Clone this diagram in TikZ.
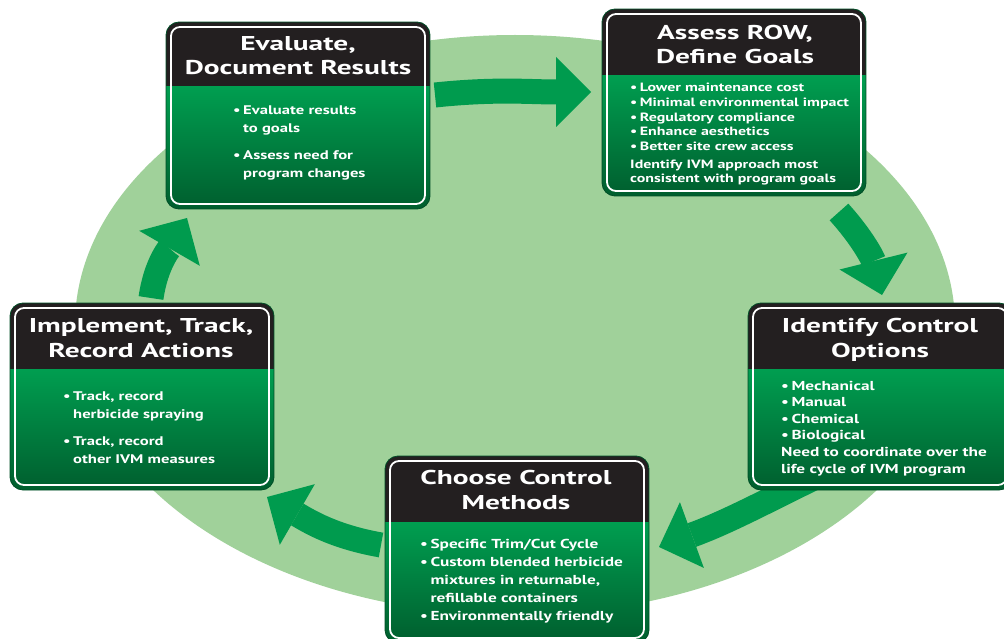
\documentclass[tikz,border=0pt]{standalone}
\usepackage{fontspec}
\setmainfont{PT Sans}
\newfontfamily\hdfont{PT Sans}[FakeStretch=1.47]
\newfontfamily\bdfont{PT Sans}[FakeStretch=1.33]
\usetikzlibrary{arrows.meta}

\definecolor{fieldgreen}{RGB}{160,209,154}
\definecolor{arrowgreen}{RGB}{0,155,78}
\definecolor{boxtop}{RGB}{0,158,80}
\definecolor{boxbottom}{RGB}{0,94,46}
\definecolor{hdrblack}{RGB}{35,31,32}
\definecolor{rimgreen}{RGB}{0,78,38}

\newcommand{\bul}{\textbullet\hspace{2.5pt}}
\newcommand{\nob}{\hphantom{\textbullet\hspace{2.5pt}}}

\begin{document}
\begin{tikzpicture}[x=1pt,y=-1pt,
                    bigarrow/.style={draw=arrowgreen,line width=25pt,
                      -{Triangle[length=35pt,width=70pt,line width=0pt]}},
                    title/.style={anchor=base,align=center,text=white,inner sep=0pt,
                      font=\hdfont\bfseries\fontsize{20}{24.5}\selectfont},
                    items/.style={anchor=base west,align=left,text=white,inner sep=0pt,
                      font=\bdfont\bfseries\fontsize{12.5}{18}\selectfont}]

  \useasboundingbox (0,0) rectangle (1004,639);
  \clip (0,0) rectangle (1004,639);

  % background field
  \fill[fieldgreen] (515,325) ellipse [x radius=440pt,y radius=290pt];

  % loose ends of the arrows
  \coordinate (a1s) at (435,95);  \coordinate (a1e) at (591,92);
  \coordinate (a2s) at (839,212); \coordinate (a2e) at (882,295);
  \coordinate (a3s) at (830,470); \coordinate (a3e) at (659,547);
  \coordinate (a4s) at (381,545); \coordinate (a4e) at (267,497);
  \coordinate (a5s) at (151,298); \coordinate (a5e) at (187,218);

  \draw[bigarrow] (a1s) to[out=6,in=180] (a1e);
  \draw[bigarrow] (a2s) to[out=-48,in=104] (a2e);
  \draw[bigarrow] (a3s) to[out=206,in=20] (a3e);
  \draw[bigarrow] (a4s) to[out=170,in=-30] (a4e);
  \draw[bigarrow] (a5s) to[out=82,in=240] (a5e);

  % the five boxes
  \foreach \bx/\by/\bh in {166/22/87, 602/9/76, 748/303/369, 385/456/522, 10/303/369} {
    \begin{scope}
      \clip[rounded corners=13pt] (\bx,\by) rectangle ++(264,187);
      \fill[hdrblack] (\bx,\by) rectangle (\bx+264,\bh);
      \shade[top color=boxtop,bottom color=boxbottom] (\bx,\bh) rectangle (\bx+264,\by+187);
    \end{scope}
    \draw[rimgreen,line width=0.8pt,rounded corners=13pt] (\bx,\by) rectangle ++(264,187);
    \draw[white,line width=1.8pt,rounded corners=9pt] (\bx+5,\by+5) rectangle (\bx+259,\by+182);
  }

  % anchor=base sits on the last line
  \node[title] (evalT) at (298,75) {Evaluate,\\Document Results};
  \node[items] (evalB) at (233,178)
    {\bul Evaluate results\\\nob to goals\\[9pt]\bul Assess need for\\\nob program changes};

  \node[title] (assessT) at (735,64) {Assess ROW,\\Define Goals};
  \node[items,font=\bdfont\bfseries\fontsize{12}{14.7}\selectfont] (assessB) at (630,183)
    {\bul Lower maintenance cost\\\bul Minimal environmental impact\\
     \bul Regulatory compliance\\\bul Enhance aesthetics\\\bul Better site crew access\\[3pt]
     Identify IVM approach most\\consistent with program goals};

  \node[title] (optT) at (880,357) {Identify Control\\Options};
  \node[items,font=\bdfont\bfseries\fontsize{13}{16.6}\selectfont] (optB) at (781,473)
    {\bul Mechanical\\\bul Manual\\\bul Chemical\\\bul Biological\\
     Need to coordinate over the\\life cycle of IVM program};

  \node[title] (chooseT) at (516,509) {Choose Control\\Methods};
  \node[items,font=\bdfont\bfseries\fontsize{13}{18}\selectfont] (chooseB) at (420,620)
    {\bul Specific Trim/Cut Cycle\\\bul Custom blended herbicide\\
     \nob mixtures in returnable,\\\nob refillable containers\\\bul Environmentally friendly};

  \node[title] (trackT) at (141,357) {Implement, Track,\\Record Actions};
  \node[items] (trackB) at (63,463)
    {\bul Track, record\\\nob herbicide spraying\\[9pt]\bul Track, record\\\nob other IVM measures};
\end{tikzpicture}
\end{document}
